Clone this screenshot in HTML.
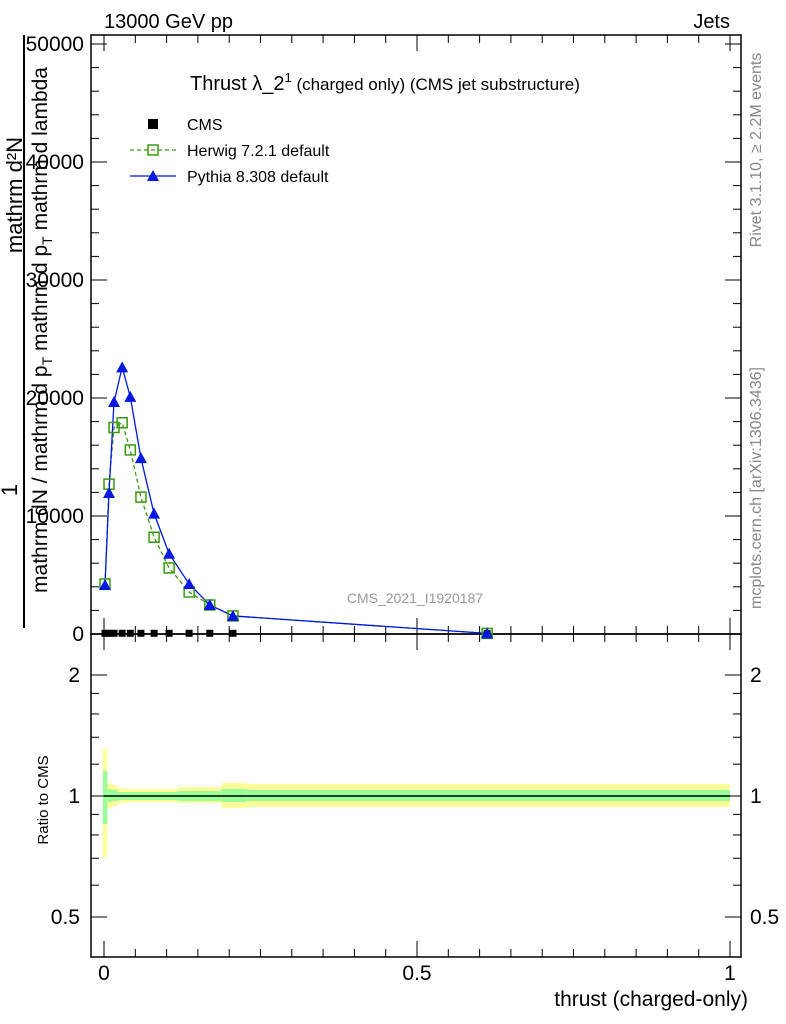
<!DOCTYPE html>
<html><head><meta charset="utf-8"><style>
html,body{margin:0;padding:0;background:#fff;}
svg{display:block;font-family:"Liberation Sans",sans-serif;}
</style></head><body>
<svg id="c" width="786" height="1024" viewBox="0 0 786 1024" xmlns="http://www.w3.org/2000/svg">
<text x="104" y="28" font-size="20">13000 GeV pp</text>
<text x="730" y="28" font-size="20" text-anchor="end">Jets</text>
<text x="190" y="90" font-size="20">Thrust λ_2<tspan dy="-8" font-size="13">1</tspan><tspan dy="8" font-size="17"> (charged only) (CMS jet substructure)</tspan></text>
<text transform="translate(761,150) rotate(-90)" font-size="16" fill="#888" text-anchor="middle">Rivet 3.1.10, ≥ 2.2M events</text>
<text transform="translate(761,488) rotate(-90)" font-size="16" fill="#888" text-anchor="middle">mcplots.cern.ch [arXiv:1306.3436]</text>
<text x="415" y="603" font-size="14" fill="#999" text-anchor="middle">CMS_2021_I1920187</text>
<text transform="translate(22,195) rotate(-90)" font-size="22" text-anchor="middle">mathrm d²N</text>
<line x1="24" y1="35" x2="24" y2="628" stroke="#000" stroke-width="2"/>
<text transform="translate(17,490) rotate(-90)" font-size="22" text-anchor="middle">1</text>
<text transform="translate(47,330) rotate(-90)" font-size="21" text-anchor="middle">mathrm dN / mathrm d p<tspan font-size="14" dy="5">T</tspan><tspan dy="-5"> mathrm d p</tspan><tspan font-size="14" dy="5">T</tspan><tspan dy="-5"> mathrm d lambda</tspan></text>
<text transform="translate(48,800) rotate(-90)" font-size="15" text-anchor="middle">Ratio to CMS</text>
<text x="748" y="1006" font-size="21" text-anchor="end">thrust (charged-only)</text>
<g id="legend">
<rect x="148" y="119" width="10" height="10" fill="#000"/>
<text x="187" y="130" font-size="16">CMS</text>
<line x1="130" y1="150" x2="176" y2="150" stroke="#3a9a10" stroke-dasharray="4,3" stroke-width="1.3"/>
<rect x="148" y="145" width="10" height="10" fill="none" stroke="#3a9a10" stroke-width="1.5"/>
<text x="187" y="156" font-size="16">Herwig 7.2.1 default</text>
<line x1="130" y1="176" x2="176" y2="176" stroke="#0018e0" stroke-width="1.3"/>
<polygon points="153,170 159,181 147,181" fill="#0018e0"/>
<text x="187" y="182" font-size="16">Pythia 8.308 default</text>
</g>
</svg>
<script>
const xVals=[0.0016,0.008,0.016,0.029,0.042,0.059,0.080,0.104,0.136,0.169,0.206,0.612];
const cmsVals=[60,60,60,60,60,60,60,60,60,60,60,30];
const herwigVals=[4240,12700,17500,17900,15600,11600,8200,5600,3560,2460,1530,50];
const pythiaVals=[4150,11950,19660,22600,20100,14900,10200,6800,4240,2460,1530,50];
const binEdges=[-0.0016,0.0053,0.012,0.022,0.035,0.119,0.188,0.228,1.0];
const yellowUp=[1.31,1.077,1.065,1.047,1.041,1.053,1.077,1.071];
const yellowDn=[0.705,0.933,0.944,0.961,0.966,0.961,0.933,0.939];
const greenUp=[1.154,1.041,1.035,1.023,1.023,1.029,1.041,1.035];
const greenDn=[0.852,0.966,0.972,0.977,0.977,0.972,0.966,0.972];
const mainTicks=[0,10000,20000,30000,40000,50000];
const mainTickLabels=["0","10000","20000","30000","40000","50000"];
const ratioTicks=[0.5,1,2];
const ratioTickLabels=["0.5","1","2"];
const xTicks=[0,0.5,1];
const xTickLabels=["0","0.5","1"];

const svg=document.getElementById('c');
const NS='http://www.w3.org/2000/svg';
const L=91,R=741,T=35,M=634,B=957;
const X=v=>104+v*626;
const Y=v=>634-v*0.0118;
const RY=r=>796-Math.log10(r)*402;
function mk(tag,attrs){const e=document.createElementNS(NS,tag);for(const k in attrs)e.setAttribute(k,attrs[k]);svg.appendChild(e);return e;}

for(let i=0;i<binEdges.length-1;i++){
  const x1=X(binEdges[i]),x2=X(binEdges[i+1]);
  const y=mk('rect',{x:x1,y:RY(yellowUp[i]),width:x2-x1,height:RY(yellowDn[i])-RY(yellowUp[i]),fill:'#ffff99'});
  
  
  const g=mk('rect',{x:x1,y:RY(greenUp[i]),width:x2-x1,height:RY(greenDn[i])-RY(greenUp[i]),fill:'#99ff99'});
  
  
}
const one=mk('line',{x1:X(0),x2:X(1),y1:RY(1),y2:RY(1),stroke:'#000','stroke-width':1.5});



const f1=mk('rect',{x:L,y:T,width:R-L,height:M-T,fill:'none',stroke:'#000','stroke-width':1.5});


const f2=mk('rect',{x:L,y:M,width:R-L,height:B-M,fill:'none',stroke:'#000','stroke-width':1.5});



for(let v=0;v<=50000;v+=2000){
  const major=v%10000===0,len=major?16:8;
  const a=mk('line',{x1:L,x2:L+len,y1:Y(v),y2:Y(v),stroke:'#000'});
  
  
  const b=mk('line',{x1:R,x2:R-len,y1:Y(v),y2:Y(v),stroke:'#000'});
  
  
}
mainTicks.forEach((v,i)=>{
  const t=mk('text',{x:84,y:Y(v)+7,'font-size':21,'text-anchor':'end'});
  t.textContent=mainTickLabels[i];
  
  
});
[0.5,0.6,0.7,0.8,0.9,1,1.2,1.4,1.6,1.8,2].forEach(v=>{
  const major=ratioTicks.includes(v),len=major?16:8;
  const a=mk('line',{x1:L,x2:L+len,y1:RY(v),y2:RY(v),stroke:'#000'});
  
  
  const b=mk('line',{x1:R,x2:R-len,y1:RY(v),y2:RY(v),stroke:'#000'});
  
  
});
ratioTicks.forEach((v,i)=>{
  const t=mk('text',{x:80,y:RY(v)+7,'font-size':21,'text-anchor':'end'});
  t.textContent=ratioTickLabels[i];
  
  
  const t2=mk('text',{x:750,y:RY(v)+7,'font-size':21});
  t2.textContent=ratioTickLabels[i];
  
  
});
for(let k=0;k<=20;k++){
  const v=k*0.05,major=k%10===0,len=major?16:8;
  [[M,-1],[T,1],[B,-1],[M,1]].forEach(([y0,d])=>{
    const a=mk('line',{x1:X(v),x2:X(v),y1:y0,y2:y0+d*len,stroke:'#000'});
    
    
  });
}
xTicks.forEach((v,i)=>{
  const t=mk('text',{x:X(v),y:980,'font-size':21,'text-anchor':'middle'});
  t.textContent=xTickLabels[i];
  
  
});

const hp=mk('polyline',{points:xVals.map((x,i)=>X(x)+','+Y(herwigVals[i])).join(' '),fill:'none',stroke:'#3a9a10','stroke-width':1.3,'stroke-dasharray':'4,3'});


const pp=mk('polyline',{points:xVals.map((x,i)=>X(x)+','+Y(pythiaVals[i])).join(' '),fill:'none',stroke:'#0018e0','stroke-width':1.3});


xVals.forEach((x,i)=>{
  const c=mk('rect',{x:X(x)-3.5,y:Y(cmsVals[i])-3.5,width:7,height:7,fill:'#000'});
  
  
  const h=mk('rect',{x:X(x)-5,y:Y(herwigVals[i])-5,width:10,height:10,fill:'none',stroke:'#3a9a10','stroke-width':1.5});
  
  
  const px=X(x),py=Y(pythiaVals[i]);
  const p=mk('polygon',{points:`${px},${py-6} ${px+6},${py+5} ${px-6},${py+5}`,fill:'#0018e0'});
  
  
});
</script>
</body></html>
